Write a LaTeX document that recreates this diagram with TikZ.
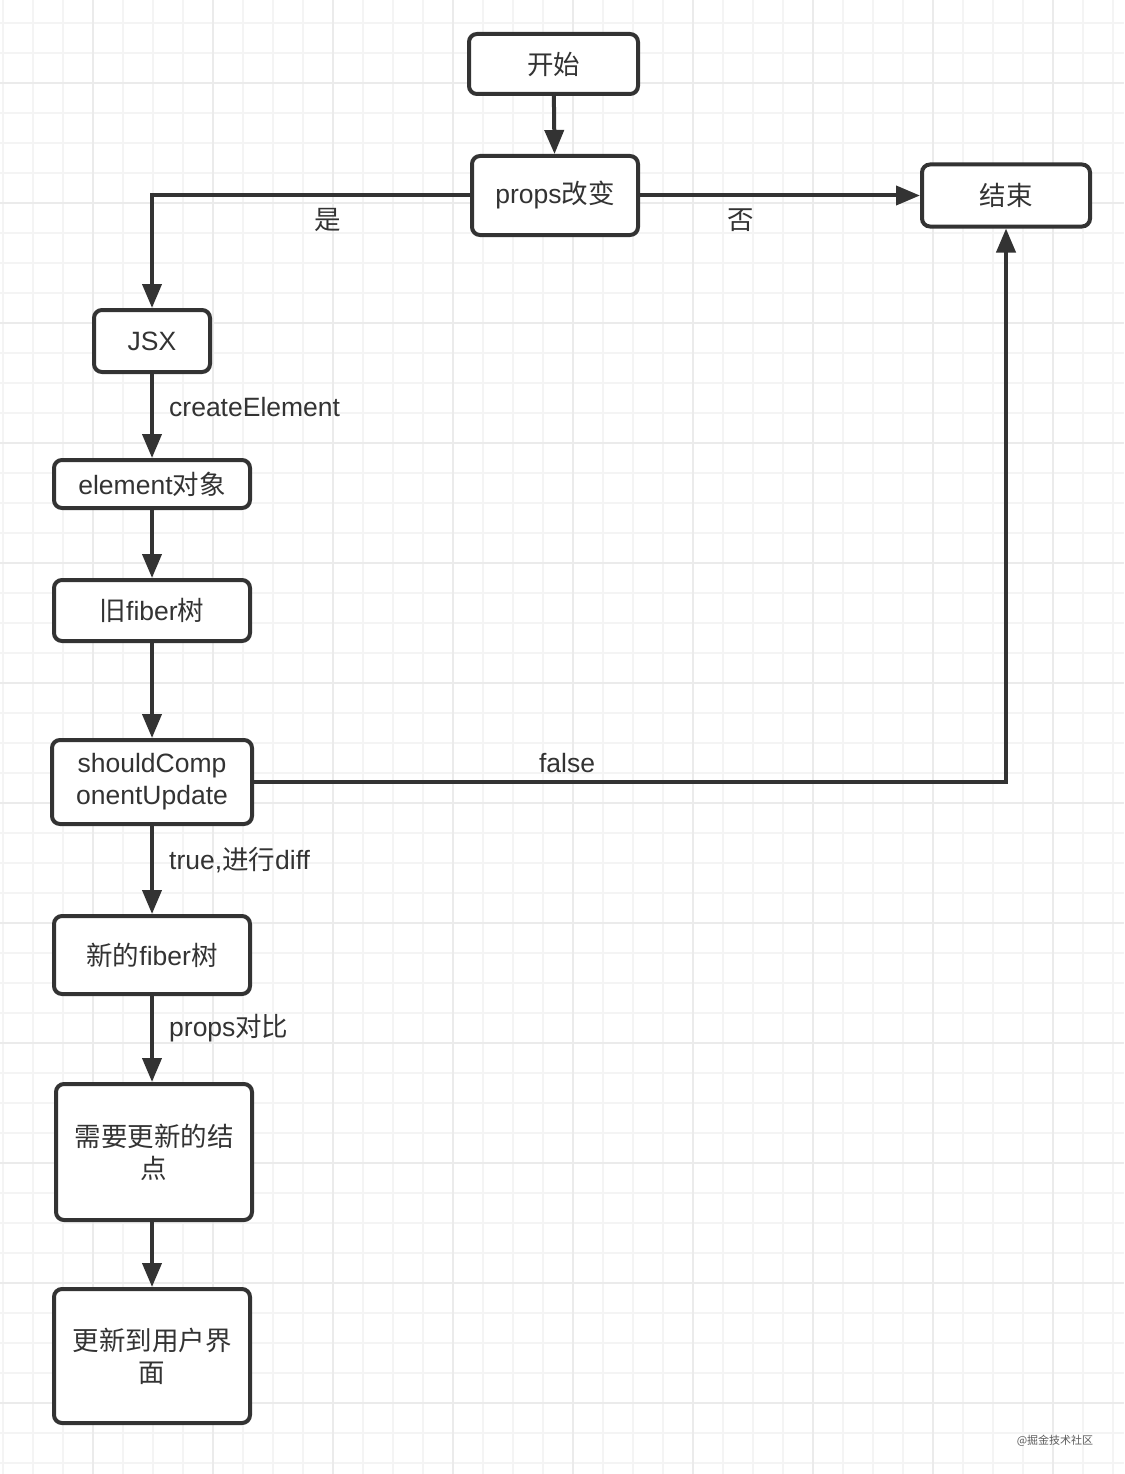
\documentclass[tikz,border=0pt]{standalone}
\usepackage{fontspec}
\setmainfont{Liberation Sans}
\newfontfamily\cjk{Noto Sans CJK SC}
\usetikzlibrary{arrows.meta}
\definecolor{ink}{HTML}{333333}
\definecolor{gridminor}{HTML}{F4F4F4}
\definecolor{gridmajor}{HTML}{EBEBEB}

\begin{document}
\begin{tikzpicture}[x=1pt, y=-1pt, >={Triangle[length=24pt,width=19pt]},
  box/.style={
    % The shape:
    rectangle, rounded corners=8pt,
    % The border
    line width=4pt, draw=ink,
    % The filling
    fill=white,
    % The text
    text=ink, align=center, inner sep=0pt,
    font=\fontsize{26.5}{32}\selectfont},
  flow/.style={line width=4pt, draw=ink, ->},
  lbl/.style={text=ink, inner sep=0pt, font=\fontsize{26.5}{32}\selectfont}]
    \useasboundingbox (0,0) rectangle (1124,1474);
    \fill[white] (0,0) rectangle (1124,1474);
    % grid paper
    \foreach \x in {3,33,...,1124}{
      \draw[gridminor, line width=1.5pt] (\x,0) -- (\x,1474);
    }
    \foreach \y in {23,53,...,1474}{
      \draw[gridminor, line width=1.5pt] (0,\y) -- (1124,\y);
    }
    \foreach \x in {93,213,...,1124}{
      \draw[gridmajor, line width=2pt] (\x,0) -- (\x,1474);
    }
    \foreach \y in {83,203,...,1474}{
      \draw[gridmajor, line width=2pt] (0,\y) -- (1124,\y);
    }

    \node[box, minimum width=169, minimum height=60] (start) at (553.5,64) {\cjk 开始};
    \node[box, minimum width=166, minimum height=79] (props) at (555,195.5) {props{\cjk 改变}};
    \node[box, minimum width=168, minimum height=62] (end) at (1006,195.5) {\cjk 结束};
    \node[box, minimum width=116, minimum height=62] (jsx) at (152,341) {JSX};
    \node[box, minimum width=196, minimum height=48] (element) at (152,484) {element{\cjk 对象}};
    \node[box, minimum width=196, minimum height=61] (old) at (152,610.5) {{\cjk 旧}fiber{\cjk 树}};
    \node[box, minimum width=200, minimum height=84] (scu) at (152,782) {shouldComp\\onentUpdate};
    \node[box, minimum width=196, minimum height=78] (new) at (152,955) {{\cjk 新的}fiber{\cjk 树}};
    \node[box, minimum width=196, minimum height=136] (need) at (154,1152) {\cjk 需要更新的结\\\cjk 点};
    \node[box, minimum width=196, minimum height=134] (ui) at (152,1356) {\cjk 更新到用户界\\\cjk 面};

    \draw[flow] (start) -- (props);
    \draw[flow] (props.west) -| (jsx.north);
    \draw[flow] (props.east) -- (end.west);
    \draw[flow] (jsx) -- (element);
    \draw[flow] (element) -- (old);
    \draw[flow] (old) -- (scu);
    \draw[flow] (scu.east) -| (end.south);
    \draw[flow] (scu) -- (new);
    \draw[flow] (new.south) -- (new.south |- need.north);
    \draw[flow] (need.south -| ui.north) -- (ui.north);

    \node[lbl] (yes) at (328,220) {\cjk 是};
    \node[lbl] (no) at (741,220) {\cjk 否};
    \node[lbl, anchor=west] (create) at (169,407) {createElement};
    \node[lbl] (nofalse) at (567,763) {false};
    \node[lbl, anchor=west] (yestrue) at (169,860) {true,{\cjk 进行}diff};
    \node[lbl, anchor=west] (compare) at (169,1028) {props{\cjk 对比}};

    \node[text=ink!80, inner sep=0pt, font=\fontsize{11}{13}\selectfont] (mark) at (1055,1441) {\cjk @掘金技术社区};
    \end{tikzpicture}
\end{document}
